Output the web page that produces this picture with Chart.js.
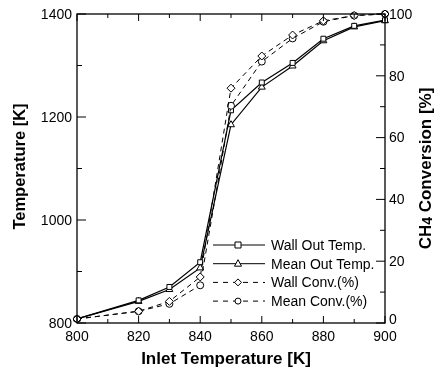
<!DOCTYPE html>
<html>
<head>
<meta charset="utf-8">
<script src="https://cdn.jsdelivr.net/npm/chart.js@4.4.0/dist/chart.umd.min.js"></script>
<style>
  html, body { margin: 0; padding: 0; background: #fff; }
  #wrap { width: 443px; height: 371px; }
</style>
</head>
<body>
<div id="wrap"><canvas id="chart" width="443" height="371"></canvas></div>
<script>
// Inlet temperature sweep and the four measured series
const inletTemps  = [800, 820, 830, 840, 850, 860, 870, 880, 890, 900];
const wallOutTemp = [808, 844, 870, 918, 1213, 1267, 1305, 1352, 1377, 1388];
const meanOutTemp = [808, 842, 865, 907, 1185, 1258, 1299, 1348, 1375, 1387];
const wallConv    = [1.3, 3.8, 7.0, 14.9, 76.0, 86.4, 93.2, 97.8, 99.5, 100];
const meanConv    = [1.3, 3.8, 6.2, 12.2, 70.3, 84.6, 92.1, 97.5, 99.5, 100];

// Axis tick values
const inletTicks = [800, 820, 840, 860, 880, 900];
const inletMinor = [810, 830, 850, 870, 890];
const tempTicks  = [800, 1000, 1200, 1400];
const tempMinor  = [900, 1100, 1300];
const convTicks  = [0, 20, 40, 60, 80, 100];
const convMinor  = [10, 30, 50, 70, 90];

const seriesNames = ['Wall Out Temp.', 'Mean Out Temp.', 'Wall Conv.(%)', 'Mean Conv.(%)'];

const FONT = '"Liberation Sans", Arial, Helvetica, sans-serif';

const toPoints = (ys) => inletTemps.map((x, i) => ({ x: x, y: ys[i] }));

function marker(ctx, style, x, y, r) {
    ctx.beginPath();
    if (style === 'rect') {
        ctx.rect(x - r, y - r, 2 * r, 2 * r);
    } else if (style === 'triangle') {
        ctx.moveTo(x, y - r - 1);
        ctx.lineTo(x + r + 0.5, y + r - 0.5);
        ctx.lineTo(x - r - 0.5, y + r - 0.5);
        ctx.closePath();
    } else if (style === 'rectRot') {
        ctx.moveTo(x, y - r - 0.5);
        ctx.lineTo(x + r + 0.5, y);
        ctx.lineTo(x, y + r + 0.5);
        ctx.lineTo(x - r - 0.5, y);
        ctx.closePath();
    } else {
        ctx.arc(x, y, r, 0, Math.PI * 2);
    }
    ctx.fillStyle = '#fff';
    ctx.fill();
    ctx.stroke();
}

// Frame, inward ticks, tick labels, titles and the in-plot legend
const axesPlugin = {
    id: 'paperAxes',
    afterDraw(chart) {
        const ctx = chart.ctx;
        const a = chart.chartArea;
        const sx = chart.scales.x, sy = chart.scales.y, sy2 = chart.scales.y2;

        ctx.save();
        ctx.strokeStyle = '#000';
        ctx.lineWidth = 1.3;
        ctx.strokeRect(a.left, a.top, a.right - a.left, a.bottom - a.top);

        ctx.lineWidth = 1;
        const tick = (x1, y1, x2, y2) => {
            ctx.beginPath(); ctx.moveTo(x1, y1); ctx.lineTo(x2, y2); ctx.stroke();
        };
        inletTicks.forEach(v => {
            const px = sx.getPixelForValue(v);
            tick(px, a.bottom, px, a.bottom - 7);
            tick(px, a.top, px, a.top + 7);
        });
        inletMinor.forEach(v => {
            const px = sx.getPixelForValue(v);
            tick(px, a.bottom, px, a.bottom - 4);
            tick(px, a.top, px, a.top + 4);
        });
        tempTicks.forEach(v => {
            const py = sy.getPixelForValue(v);
            tick(a.left, py, a.left + 9, py);
        });
        tempMinor.forEach(v => {
            const py = sy.getPixelForValue(v);
            tick(a.left, py, a.left + 5, py);
        });
        convTicks.forEach(v => {
            const py = sy2.getPixelForValue(v);
            tick(a.right, py, a.right - 9, py);
        });
        convMinor.forEach(v => {
            const py = sy2.getPixelForValue(v);
            tick(a.right, py, a.right - 5, py);
        });

        ctx.fillStyle = '#000';
        ctx.font = '14px ' + FONT;
        ctx.textBaseline = 'middle';
        ctx.textAlign = 'right';
        tempTicks.forEach(v => {
            ctx.fillText(String(v), a.left - 5, sy.getPixelForValue(v) + 1);
        });
        ctx.textAlign = 'left';
        convTicks.forEach(v => {
            const py = sy2.getPixelForValue(v);
            ctx.fillText(String(v), a.right + 4, v === 0 ? py - 3 : py + 1);
        });
        ctx.textAlign = 'center';
        ctx.textBaseline = 'top';
        inletTicks.forEach(v => {
            ctx.fillText(String(v), sx.getPixelForValue(v), a.bottom + 7);
        });

        // axis titles
        const midY = (a.top + a.bottom) / 2;
        ctx.textBaseline = 'middle';
        ctx.textAlign = 'center';
        ctx.font = 'bold 17px ' + FONT;
        ctx.fillText('Inlet Temperature [K]', (a.left + a.right) / 2 - 5, 359);

        ctx.save();
        ctx.font = 'bold 16.5px ' + FONT;
        ctx.translate(20, midY - 2);
        ctx.rotate(-Math.PI / 2);
        ctx.fillText('Temperature [K]', 0, 0);
        ctx.restore();

        ctx.save();
        ctx.translate(426, midY);
        ctx.rotate(-Math.PI / 2);
        const parts = [['CH', 17, 0], ['4', 14, 2], [' Conversion [%]', 17, 0]];
        let total = 0;
        parts.forEach(p => { ctx.font = 'bold ' + p[1] + 'px ' + FONT; total += ctx.measureText(p[0]).width; });
        let cx = -total / 2;
        ctx.textAlign = 'left';
        parts.forEach(p => {
            ctx.font = 'bold ' + p[1] + 'px ' + FONT;
            ctx.fillText(p[0], cx, p[2]);
            cx += ctx.measureText(p[0]).width;
        });
        ctx.restore();

        // legend
        const styles = ['rect', 'triangle', 'rectRot', 'circle'];
        const dashed = [false, false, true, true];
        ctx.font = '14px ' + FONT;
        ctx.textAlign = 'left';
        ctx.textBaseline = 'middle';
        seriesNames.forEach((name, i) => {
            const ly = 245 + i * 18.7;
            ctx.lineWidth = 1;
            ctx.setLineDash(dashed[i] ? [5, 5] : []);
            tick(213, ly, 265, ly);
            ctx.setLineDash([]);
            marker(ctx, styles[i], 238, ly, 3);
            ctx.fillStyle = '#000';
            ctx.fillText(name, 271, ly + 1);
        });
        ctx.restore();
    }
};

const commonLine = {
    borderColor: '#000',
    pointBorderColor: '#000',
    pointBackgroundColor: '#fff',
    pointRadius: 3.5,
    pointBorderWidth: 1,
    tension: 0,
    clip: false
};

new Chart(document.getElementById('chart'), {
    type: 'line',
    data: {
        datasets: [
            Object.assign({}, commonLine, {
                label: seriesNames[2], data: toPoints(wallConv), yAxisID: 'y2',
                borderWidth: 1, borderDash: [5, 4], pointStyle: 'rectRot', pointRadius: 4
            }),
            Object.assign({}, commonLine, {
                label: seriesNames[3], data: toPoints(meanConv), yAxisID: 'y2',
                borderWidth: 1, borderDash: [5, 4], pointStyle: 'circle'
            }),
            Object.assign({}, commonLine, {
                label: seriesNames[0], data: toPoints(wallOutTemp), yAxisID: 'y',
                borderWidth: 1.2, pointStyle: 'rect'
            }),
            Object.assign({}, commonLine, {
                label: seriesNames[1], data: toPoints(meanOutTemp), yAxisID: 'y',
                borderWidth: 1.2, pointStyle: 'triangle', pointRadius: 4
            })
        ]
    },
    options: {
        responsive: false,
        animation: false,
        layout: { padding: { left: 77, right: 58, top: 14, bottom: 48 } },
        plugins: { legend: { display: false }, tooltip: { enabled: false } },
        scales: {
            x: { type: 'linear', min: 800, max: 900, display: false },
            y: { type: 'linear', min: 800, max: 1400, display: false },
            y2: { type: 'linear', min: 0, max: 100, display: false, position: 'right' }
        }
    },
    plugins: [axesPlugin]
});
</script>
</body>
</html>
